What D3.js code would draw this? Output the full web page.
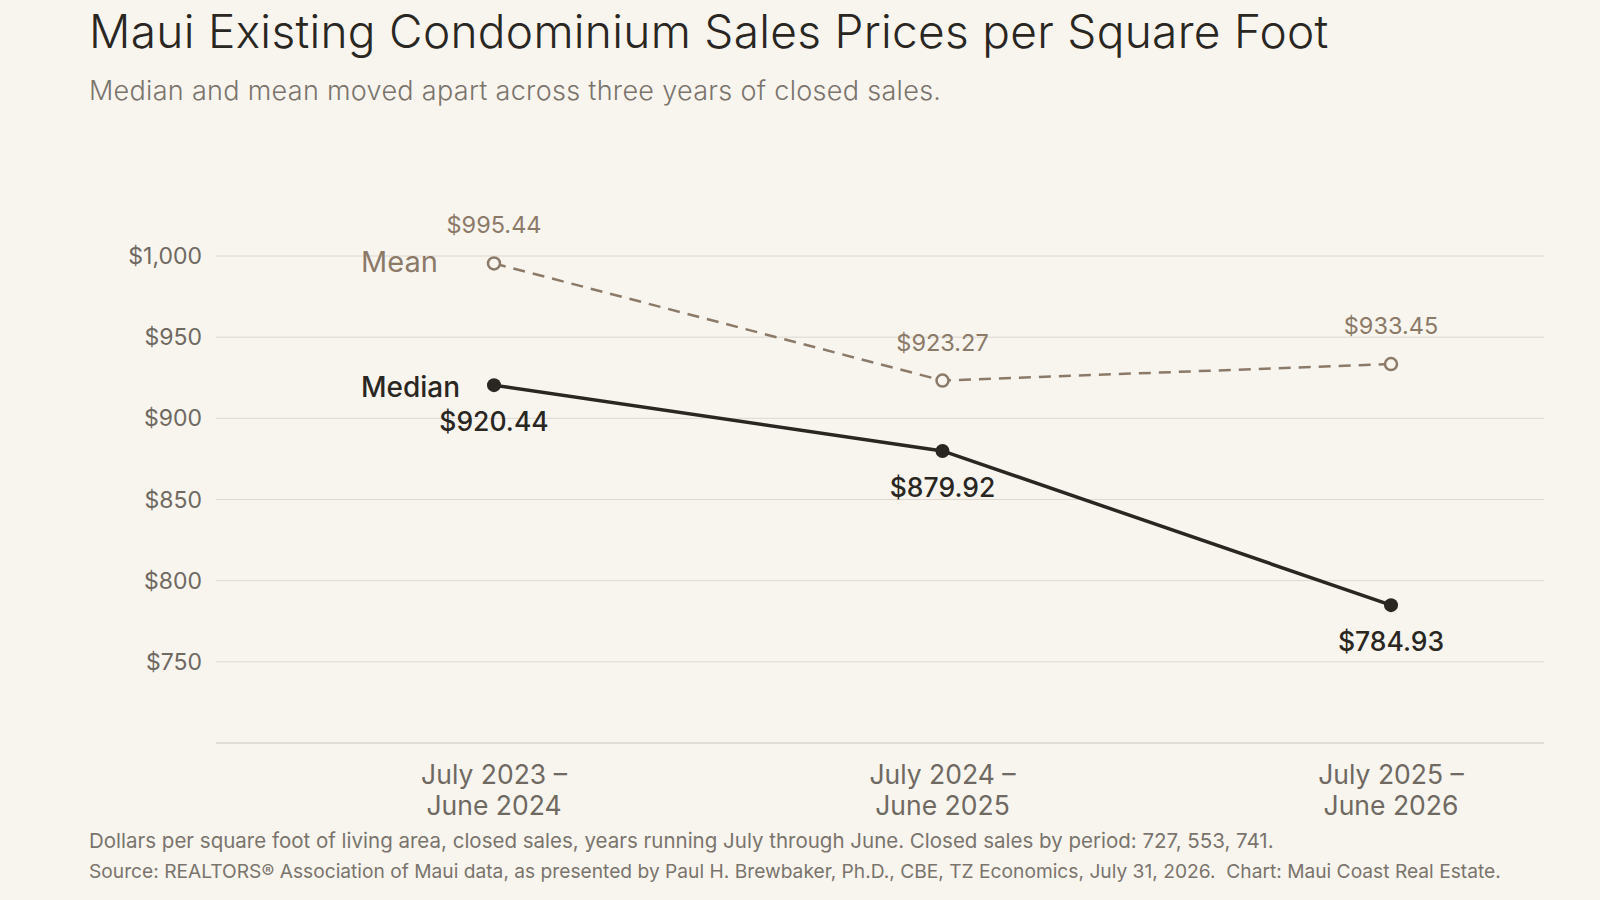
<!DOCTYPE html>
<html>
<head>
<meta charset="utf-8">
<script src="https://cdn.jsdelivr.net/npm/d3@7"></script>
<style>
  body { margin: 0; background: #f8f5ef; }
  svg { font-family: Inter, "Noto Sans", sans-serif; }
</style>
</head>
<body>
<svg id="chart" width="1600" height="900"></svg>
<script>
const periods = [["July 2023 –", "June 2024"], ["July 2024 –", "June 2025"], ["July 2025 –", "June 2026"]];
const median = [920.44, 879.92, 784.93];
const mean = [995.44, 923.27, 933.45];
const yTicks = [750, 800, 850, 900, 950, 1000];

const svg = d3.select("#chart");
const W = 1600, H = 900;
svg.append("rect").attr("width", W).attr("height", H).attr("fill", "#f8f5ef");

// title block
svg.append("text").attr("x", 89).attr("y", 48).attr("font-size", 46).attr("font-weight", 300)
  .attr("fill", "#2a2622").attr("letter-spacing", 0.3)
  .text("Maui Existing Condominium Sales Prices per Square Foot");
svg.append("text").attr("x", 89).attr("y", 100).attr("font-size", 27).attr("font-weight", 300)
  .attr("fill", "#7a746c").attr("letter-spacing", 0.3)
  .text("Median and mean moved apart across three years of closed sales.");

const left = 216, right = 1544, bottom = 743;
const x = d3.scalePoint().domain([0, 1, 2]).range([494, 1391]);
const y = d3.scaleLinear().domain([700, 1000]).range([bottom, 256]);

// grid
svg.append("g").selectAll("line").data(yTicks).join("line")
  .attr("x1", left).attr("x2", right)
  .attr("y1", d => y(d)).attr("y2", d => y(d))
  .attr("stroke", "#dcd8d0").attr("stroke-width", 1);
svg.append("line").attr("x1", left).attr("x2", right).attr("y1", bottom).attr("y2", bottom)
  .attr("stroke", "#c9c4bb");

svg.append("g").selectAll("text").data(yTicks).join("text")
  .attr("x", left - 14).attr("y", d => y(d)).attr("dy", "0.35em")
  .attr("text-anchor", "end").attr("font-size", 23).attr("fill", "#6f6961")
  .text(d => d3.format("$,")(d));

// x labels
const xl = svg.append("g").selectAll("text").data(periods).join("text")
  .attr("text-anchor", "middle").attr("font-size", 26.5).attr("fill", "#6f6961");
xl.append("tspan").attr("x", (d, i) => x(i)).attr("y", 784).text(d => d[0]);
xl.append("tspan").attr("x", (d, i) => x(i)).attr("y", 815).text(d => d[1]);

const line = d3.line().x((d, i) => x(i)).y(d => y(d));
const fmt = d => "$" + d3.format(",.2f")(d);

// mean
svg.append("path").attr("d", line(mean)).attr("fill", "none")
  .attr("stroke", "#8c7a68").attr("stroke-width", 2.5).attr("stroke-dasharray", "12,8");
svg.append("g").selectAll("circle").data(mean).join("circle")
  .attr("cx", (d, i) => x(i)).attr("cy", d => y(d)).attr("r", 6)
  .attr("fill", "#f8f5ef").attr("stroke", "#8c7a68").attr("stroke-width", 2.5);
svg.append("g").selectAll("text").data(mean).join("text")
  .attr("x", (d, i) => x(i)).attr("y", d => y(d) - 30)
  .attr("text-anchor", "middle").attr("font-size", 23.5).attr("fill", "#8c7a68").text(fmt);
svg.append("text").attr("x", 361).attr("y", y(mean[0]) + 9).attr("font-size", 29)
  .attr("fill", "#8c7a68").text("Mean");

// median
svg.append("path").attr("d", line(median)).attr("fill", "none")
  .attr("stroke", "#2a2622").attr("stroke-width", 3.5);
svg.append("g").selectAll("circle").data(median).join("circle")
  .attr("cx", (d, i) => x(i)).attr("cy", d => y(d)).attr("r", 7).attr("fill", "#2a2622");
svg.append("g").selectAll("text").data(median).join("text")
  .attr("x", (d, i) => x(i)).attr("y", d => y(d) + 46)
  .attr("text-anchor", "middle").attr("font-size", 26.5).attr("font-weight", 500)
  .attr("fill", "#2a2622").text(fmt);
svg.append("text").attr("x", 361).attr("y", y(median[0]) + 12).attr("font-size", 28)
  .attr("font-weight", 500).attr("fill", "#2a2622").text("Median");

// notes
svg.append("text").attr("x", 89).attr("y", 848).attr("font-size", 20.5).attr("fill", "#7a746c")
  .text("Dollars per square foot of living area, closed sales, years running July through June. Closed sales by period: 727, 553, 741.");
svg.append("text").attr("x", 89).attr("y", 878).attr("font-size", 19.2).attr("fill", "#7a746c")
  .attr("xml:space", "preserve")
  .text("Source: REALTORS® Association of Maui data, as presented by Paul H. Brewbaker, Ph.D., CBE, TZ Economics, July 31, 2026.  Chart: Maui Coast Real Estate.");
</script>
</body>
</html>
